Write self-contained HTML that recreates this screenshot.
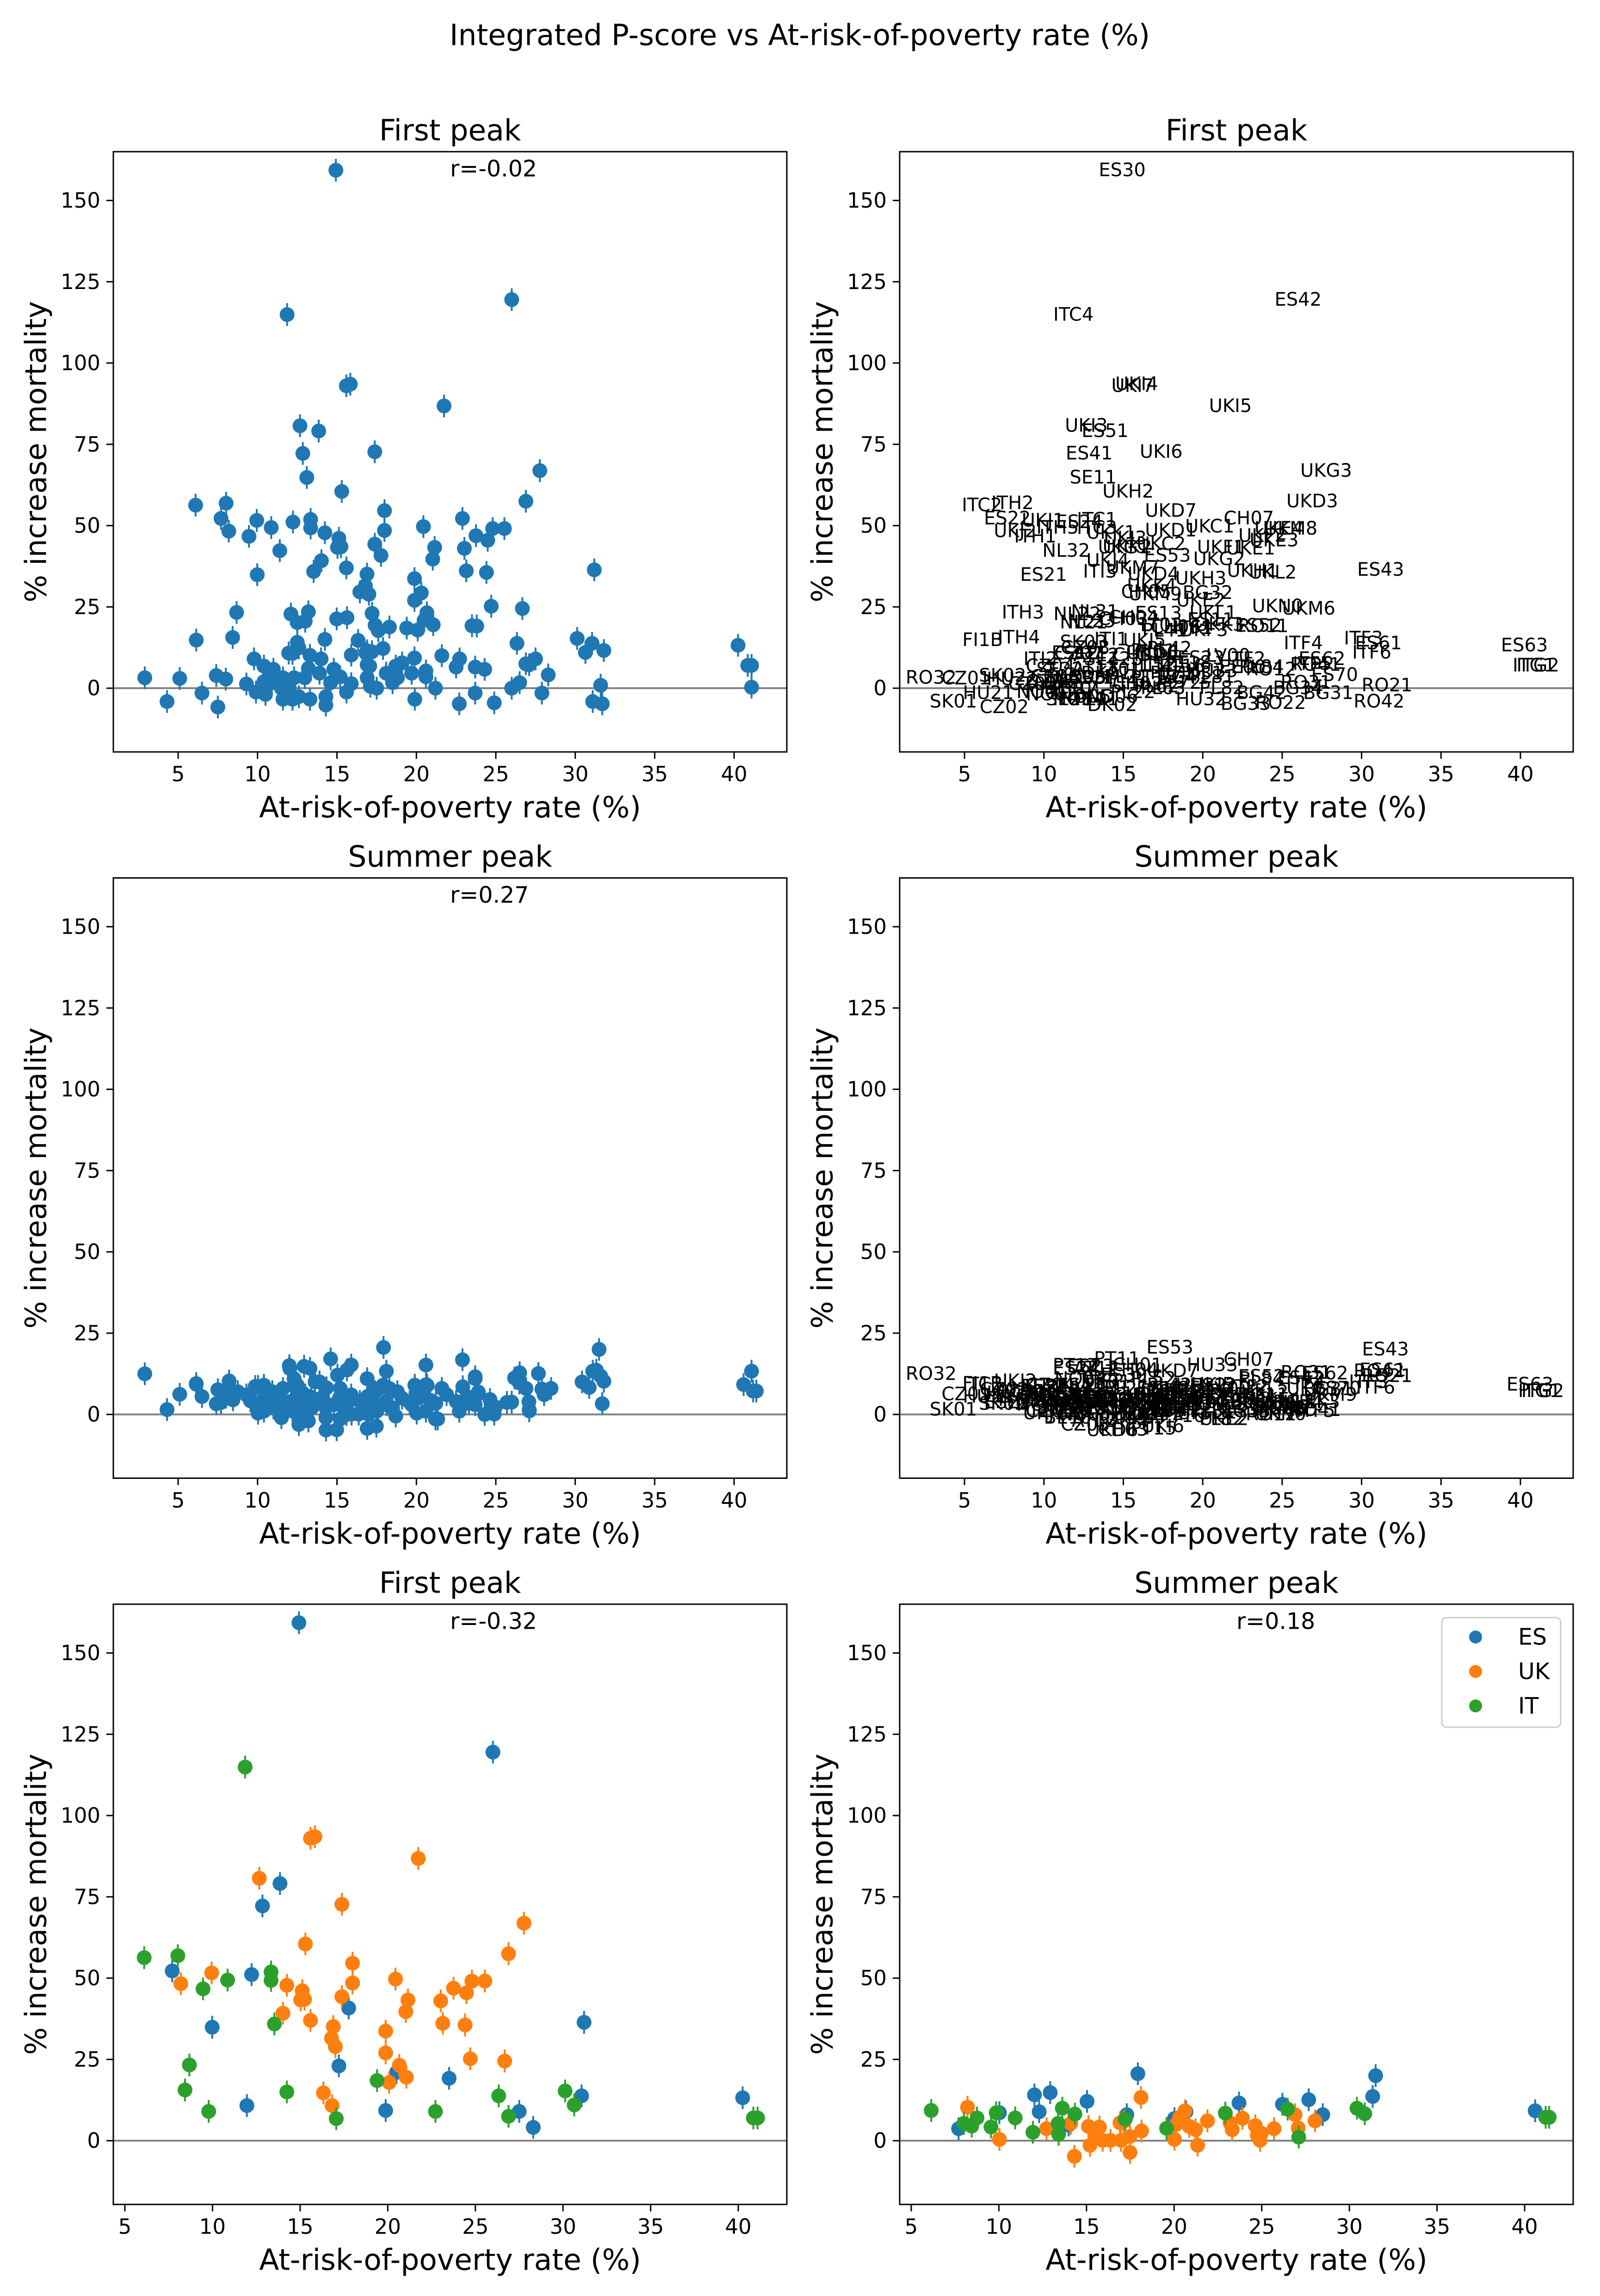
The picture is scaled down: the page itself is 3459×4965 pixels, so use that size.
<!DOCTYPE html>
<html>
<head>
<meta charset="utf-8">
<style>
  html, body { margin: 0; padding: 0; background: #ffffff; }
  svg { display: block; }
  text { font-family: "DejaVu Sans", "Liberation Sans", sans-serif; fill: #000; }
</style>
</head>
<body>
<svg id="fig" xmlns="http://www.w3.org/2000/svg" width="3459" height="4965" viewBox="0 0 3459 4965">
  <rect x="0" y="0" width="3459" height="4965" fill="#ffffff"/>
  <text x="1729" y="76" font-size="63" text-anchor="middle" dominant-baseline="central">Integrated P-score vs At-risk-of-poverty rate (%)</text>
</svg>
<script>
// ---------- DATA ----------
const esFirstX = [14.93, 26.0, 13.85, 12.85, 7.7, 12.23, 17.77, 9.98, 31.2, 17.21, 20.5, 23.5, 11.96, 19.88, 27.5, 31.06, 28.3, 40.25];
const esFirstY = [159.3, 119.5, 79.1, 72.2, 52.2, 51.1, 40.8, 34.9, 36.4, 23.0, 21.0, 19.2, 10.8, 9.3, 9.0, 13.8, 4.1, 13.2];
const esFirstCodes = ["ES30","ES42","ES51","ES41","ES22","ES24","ES53","ES21","ES43","ES13","ES11","ES52","ES12","ES23","ES62","ES61","ES70","ES63"];
const ukFirstX = [15.59, 15.84, 21.74, 12.67, 17.38, 27.77, 15.3, 26.89, 17.99, 9.95, 8.19, 20.44, 17.99, 24.8, 25.54, 14.24, 23.75, 24.49, 15.12, 15.03, 15.25, 17.38, 21.15, 23.02, 21.03, 14.02, 15.59, 23.14, 24.41, 16.89, 16.79, 17.01, 19.88, 19.88, 24.71, 26.67, 20.66, 21.06, 20.08, 16.33, 16.82];
const ukFirstY = [93.0, 93.5, 86.8, 80.7, 72.7, 66.9, 60.5, 57.5, 54.6, 51.6, 48.3, 49.7, 48.5, 49.1, 49.1, 47.8, 46.9, 45.5, 46.1, 43.3, 43.5, 44.3, 43.3, 43.0, 39.7, 39.2, 37.0, 36.1, 35.6, 35.1, 31.5, 28.9, 33.7, 27.0, 25.2, 24.5, 23.2, 19.5, 17.9, 14.7, 10.8];
const ukFirstCodes = ["UKI7","UKI4","UKI5","UKI3","UKI6","UKG3","UKH2","UKD3","UKD7","UKJ1","UKJ2","UKC1","UKD1","UKE4","UKM8","UKK1","UKF2","UKE3","UKJ3","UKG1","UKK2","UKC2","UKF1","UKE1","UKG2","UKJ4","UKM7","UKH1","UKL2","UKD4","UKK4","UKM9","UKH3","UKE2","UKN0","UKM6","UKL1","UKK3","UKF3","UKJ5","UKD6"];
const itFirstX = [11.86, 6.1, 8.02, 9.46, 10.86, 13.34, 13.34, 13.53, 8.68, 8.43, 14.24, 9.78, 17.06, 19.39, 22.72, 26.33, 26.89, 30.12, 30.64, 40.86, 41.1];
const itFirstY = [114.9, 56.3, 56.9, 46.7, 49.4, 51.9, 49.3, 35.9, 23.3, 15.6, 15.0, 9.0, 6.8, 18.5, 9.0, 13.8, 7.5, 15.3, 11.0, 7.0, 7.0];
const itFirstCodes = ["ITC4","ITC2","ITH2","ITH1","ITH5","ITC1","ITC3","ITI3","ITH3","ITH4","ITI1","ITI2","ITI4","ITF1","ITF2","ITF4","ITF5","ITF3","ITF6","ITG1","ITG2"];
const esSumX = [7.7, 10.03, 12.03, 12.3, 12.93, 15.03, 13.98, 17.3, 17.93, 20.02, 20.68, 23.7, 26.18, 27.68, 28.48, 31.33, 31.5, 40.6];
const esSumY = [3.7, 8.6, 14.1, 8.9, 14.8, 12.1, 4.8, 8.0, 20.6, 6.8, 8.9, 11.6, 11.2, 12.6, 8.0, 13.6, 20.0, 9.2];
const esSumCodes = ["ES22","ES21","ES24","ES41","ES23","ES30","ES51","ES13","ES53","ES11","ES12","ES52","ES42","ES62","ES70","ES61","ES43","ES63"];
const ukSumX = [8.21, 10.03, 12.72, 14.1, 14.31, 15.11, 15.2, 15.74, 15.47, 15.92, 16.37, 16.91, 17.12, 16.97, 17.48, 17.48, 18.11, 18.14, 20.02, 20.11, 20.32, 20.62, 20.86, 21.22, 21.34, 21.9, 23.19, 23.31, 23.9, 24.63, 24.75, 24.9, 24.98, 25.7, 26.9, 27.08, 28.04];
const ukSumY = [10.3, 0.4, 3.7, 5.3, -4.8, 4.4, -1.4, 4.2, 1.7, 0.1, 0.1, 5.5, 5.9, 0.1, 1.3, -3.6, 13.3, 3.0, 0.4, 5.0, 7.2, 9.2, 4.4, 3.4, -1.4, 6.1, 5.5, 3.4, 6.9, 4.6, 1.7, 0.1, 2.3, 3.7, 8.0, 3.9, 6.1];
const ukSumCodes = ["UKJ2","UKJ1","UKI3","UKK1","UKD6","UKI7","UKJ3","UKI4","UKH2","UKK2","UKJ4","UKG1","UKC2","UKM7","UKD4","UKI6","UKD7","UKD1","UKH3","UKC1","UKF2","UKI5","UKG2","UKE3","UKE2","UKF1","UKE1","UKH1","UKL2","UKE4","UKM8","UKN0","UKM6","UKL1","UKG3","UKK3","UKM9"];
const itSumX = [6.14, 8.0, 8.45, 8.75, 9.55, 9.85, 10.93, 11.94, 13.38, 13.41, 13.62, 14.34, 17.21, 19.57, 22.92, 26.48, 27.11, 30.43, 30.88, 41.2, 41.4];
const itSumY = [9.3, 5.3, 4.5, 7.0, 4.2, 8.6, 7.0, 2.6, 5.3, 2.0, 10.0, 8.2, 6.6, 3.8, 8.5, 9.7, 1.1, 10.0, 8.3, 7.2, 7.2];
const itSumCodes = ["ITC2","ITH2","ITH3","ITH4","ITH1","ITI2","ITH5","ITC4","ITC1","ITC3","ITI3","ITI1","ITI4","ITF1","ITF2","ITF4","ITF5","ITF3","ITF6","ITG1","ITG2"];
const otherCodes = ["RO32","SK01","CZ01","FI1B","HU21","CZ02","SK02","HU22","CZ03","NO01","CZ04","CZ05","NO02","SE22","CZ06","NL41","SE11","NL32","BE10","NL33","SE23","PT17","NL22","NL23","NL31","NL21","CZ07","CZ08","NO03","NO04","NO05","AT11","AT12","AT13","PL91","SK03","SE12","DK01","DK02","NO06","PT11","LT01","PL21","PL22","CH01","CH02","CH03","CH04","CH05","LT02","PL41","PL42","PL51","PL52","PT15","PL61","PL62","PL63","CH06","PL71","PL72","PT16","BG41","PT18","CH07","HU31","HU32","BG32","HU33","PL81","PL82","LV00","EE00","BG33","BG42","PL84","RO11","RO12","RO22","BG34","RO31","RO41","BG31","RO42","RO21"];
const otherX = [2.9, 4.3, 5.1, 6.14, 6.5, 7.5, 7.4, 8.0, 9.3, 9.9, 10.4, 10.4, 10.5, 11.0, 10.7, 10.9, 13.1, 11.4, 11.5, 11.6, 11.6, 12.0, 12.1, 13.0, 13.2, 12.5, 12.2, 12.6, 12.3, 12.2, 12.6, 12.97, 13.3, 13.2, 13.3, 12.5, 14.0, 13.9, 14.3, 14.3, 14.6, 14.8, 15.2, 15.6, 15.9, 15.9, 14.98, 15.63, 16.44, 17.4, 17.6, 17.9, 17.2, 16.9, 16.9, 16.9, 17.1, 17.5, 18.3, 18.1, 18.5, 18.7, 18.8, 19.1, 22.9, 19.7, 19.9, 20.31, 20.6, 20.6, 21.2, 21.6, 22.5, 22.7, 23.7, 23.7, 23.8, 24.3, 24.9, 26.0, 26.5, 27.1, 27.9, 31.1, 31.6, 31.7, 31.8, 41.1];
const otherFirst = [3.2, -4.1, 3.0, 14.8, -1.5, -5.8, 3.9, 2.8, 1.3, -1.2, 6.8, 2.0, -1.9, 5.8, 3.5, 1.7, 64.8, 42.3, 0.0, 3.2, -3.4, 0.0, 22.8, 20.6, 23.5, 20.2, 10.7, 12.4, 3.2, -3.4, -2.6, 3.2, 10.1, 6.1, -3.4, 14.1, 9.0, 4.6, -5.2, -2.6, 1.7, 5.8, 3.5, -1.2, 10.2, 1.4, 21.3, 21.7, 29.6, 19.4, 17.7, 12.2, 11.2, 7.2, 3.2, 11.5, 0.6, 0.0, 18.8, 4.6, 1.7, 6.8, 3.2, 7.8, 52.2, 4.6, -3.4, 29.3, 5.3, 3.5, 0.0, 10.0, 6.5, -4.8, -1.5, 6.5, 19.1, 5.8, -4.5, 0.0, 1.7, 7.2, -1.5, -4.1, 0.9, -4.8, 11.6, 0.3];
const otherSummer = [12.5, 1.5, 6.2, 9.5, 5.5, 7.6, 3.3, 6.6, 6.0, 3.0, 9.0, 1.0, 5.0, 2.0, 7.0, 4.0, 5.0, 6.0, -1.0, 3.0, 8.0, 15.0, 4.0, 6.0, 2.0, 9.0, 1.0, -3.1, 11.0, 3.0, 0.0, 5.0, 14.2, -2.0, 2.0, 6.0, 4.0, 10.0, 2.0, -1.0, 17.1, 3.0, 8.0, 0.0, 15.2, 6.0, -4.7, 13.7, 4.0, 7.0, 2.0, 9.0, 5.0, 11.0, -4.3, 3.0, 6.0, 1.0, 8.0, 4.0, 2.0, -0.5, 7.0, 5.0, 16.8, 3.0, 9.0, 6.0, 15.2, 1.0, -1.4, 8.0, 4.0, 1.0, 3.0, 11.0, 6.0, 0.0, 2.0, 3.8, 12.8, 1.4, 7.8, 13.3, 11.8, 3.3, 10.2, 13.3];
const corrLabels = ["r=-0.02", "r=0.27", "r=-0.32", "r=0.18"];
const yTicks = [0, 25, 50, 75, 100, 125, 150];
const xTicks = [5, 10, 15, 20, 25, 30, 35, 40];
const legendLabels = ["ES", "UK", "IT"];

// ---------- STYLE / LAYOUT ----------
const NS = "http://www.w3.org/2000/svg";
const svg = document.getElementById("fig");
const C_ES = "#1f77b4", C_UK = "#ff7f0e", C_IT = "#2ca02c";
const COLS = [245, 1945];
const ROWS = [328, 1898.5, 3469];
const AW = 1456, AH = 1298;
const YLIM = [-19.6, 165];
const XLIM_ALL = [0.92, 43.32];
const XLIM_SUB = [4.34, 42.77];
const ERR = 3.5;

function el(tag, attrs, parent) {
  const e = document.createElementNS(NS, tag);
  for (const k in attrs) e.setAttribute(k, attrs[k]);
  (parent || svg).appendChild(e);
  return e;
}

function makeAxes(col, row, xlim, title, nameBase) {
  const L = COLS[col], T = ROWS[row];
  const g = el("g", {});
  
  
  const sx = v => L + (v - xlim[0]) / (xlim[1] - xlim[0]) * AW;
  const sy = v => T + (YLIM[1] - v) / (YLIM[1] - YLIM[0]) * AH;
  const tt = el("text", { x: L + AW / 2, y: T - 46, "font-size": 63, "text-anchor": "middle", "dominant-baseline": "central" }, g);
  tt.textContent = title;
  
  
  const zl = el("line", { x1: L, x2: L + AW, y1: sy(0), y2: sy(0), stroke: "#808080", "stroke-width": 4 }, g);
  
  
  yTicks.forEach(v => {
    const y = sy(v);
    const tk = el("line", { x1: L - 15, x2: L, y1: y, y2: y, stroke: "#000", "stroke-width": 3 }, g);
    
    
    const tl = el("text", { x: L - 28, y: y, "font-size": 45, "text-anchor": "end", "dominant-baseline": "central" }, g);
    tl.textContent = String(v);
    
    
  });
  xTicks.forEach(v => {
    const x = sx(v);
    const tk = el("line", { x1: x, x2: x, y1: T + AH, y2: T + AH + 15, stroke: "#000", "stroke-width": 3 }, g);
    
    
    const tl = el("text", { x: x, y: T + AH + 48, "font-size": 45, "text-anchor": "middle", "dominant-baseline": "central" }, g);
    tl.textContent = String(v);
    
    
  });
  const xl = el("text", { x: L + AW / 2, y: T + AH + 120, "font-size": 63, "text-anchor": "middle", "dominant-baseline": "central" }, g);
  xl.textContent = "At-risk-of-poverty rate (%)";
  
  
  const yx = L - 167, yy = T + AH / 2;
  const yl = el("text", { x: yx, y: yy, "font-size": 63, "text-anchor": "middle", "dominant-baseline": "central", transform: "rotate(-90 " + yx + " " + yy + ")" }, g);
  yl.textContent = "% increase mortality";
  
  
  const marks = el("g", {}, g);
  
  
  const fr = el("rect", { x: L, y: T, width: AW, height: AH, fill: "none", stroke: "#000", "stroke-width": 3 }, g);
  
  
  return { g, marks, sx, sy, L, T };
}

function drawPoints(ax, xs, ys, color, name) {
  for (let i = 0; i < xs.length; i++) {
    const x = ax.sx(xs[i]), y = ax.sy(ys[i]);
    const eb = el("line", { x1: x, x2: x, y1: ax.sy(ys[i] + ERR), y2: ax.sy(ys[i] - ERR), stroke: color, "stroke-width": 4 }, ax.marks);
    
    
    const c = el("circle", { cx: x, cy: y, r: 16, fill: color }, ax.marks);
    
    
  }
}

function drawLabels(ax, xs, ys, codes) {
  for (let i = 0; i < xs.length; i++) {
    const t = el("text", { x: ax.sx(xs[i]), y: ax.sy(ys[i]), "font-size": 40, "text-anchor": "middle", "dominant-baseline": "central" }, ax.marks);
    t.textContent = codes[i];
    
    
  }
}

function corr(ax, txt) {
  const t = el("text", { x: ax.L + AW * 0.5, y: ax.T + 37, "font-size": 49, "text-anchor": "start", "dominant-baseline": "central" }, ax.g);
  t.textContent = txt;
  
  
}

const a1 = makeAxes(0, 0, XLIM_ALL, "First peak", "all-first-scatter");
drawPoints(a1, otherX, otherFirst, C_ES, "other-first");
drawPoints(a1, esFirstX, esFirstY, C_ES, "es-first");
drawPoints(a1, ukFirstX, ukFirstY, C_ES, "uk-first");
drawPoints(a1, itFirstX, itFirstY, C_ES, "it-first");
corr(a1, corrLabels[0]);

const a2 = makeAxes(1, 0, XLIM_ALL, "First peak", "all-first-labels");
drawLabels(a2, otherX, otherFirst, otherCodes);
drawLabels(a2, esFirstX, esFirstY, esFirstCodes);
drawLabels(a2, ukFirstX, ukFirstY, ukFirstCodes);
drawLabels(a2, itFirstX, itFirstY, itFirstCodes);

const a3 = makeAxes(0, 1, XLIM_ALL, "Summer peak", "all-summer-scatter");
drawPoints(a3, otherX, otherSummer, C_ES, "other-summer");
drawPoints(a3, esSumX, esSumY, C_ES, "es-summer");
drawPoints(a3, ukSumX, ukSumY, C_ES, "uk-summer");
drawPoints(a3, itSumX, itSumY, C_ES, "it-summer");
corr(a3, corrLabels[1]);

const a4 = makeAxes(1, 1, XLIM_ALL, "Summer peak", "all-summer-labels");
drawLabels(a4, otherX, otherSummer, otherCodes);
drawLabels(a4, esSumX, esSumY, esSumCodes);
drawLabels(a4, ukSumX, ukSumY, ukSumCodes);
drawLabels(a4, itSumX, itSumY, itSumCodes);

const a5 = makeAxes(0, 2, XLIM_SUB, "First peak", "country-first-scatter");
drawPoints(a5, esFirstX, esFirstY, C_ES, "es-first");
drawPoints(a5, ukFirstX, ukFirstY, C_UK, "uk-first");
drawPoints(a5, itFirstX, itFirstY, C_IT, "it-first");
corr(a5, corrLabels[2]);

const a6 = makeAxes(1, 2, XLIM_SUB, "Summer peak", "country-summer-scatter");
drawPoints(a6, esSumX, esSumY, C_ES, "es-summer");
drawPoints(a6, ukSumX, ukSumY, C_UK, "uk-summer");
drawPoints(a6, itSumX, itSumY, C_IT, "it-summer");
corr(a6, corrLabels[3]);

const lg = el("g", {});


const lbox = el("rect", { x: 3117, y: 3498, width: 257, height: 237, rx: 10, ry: 10, fill: "#ffffff", "fill-opacity": 0.8, stroke: "#cccccc", "stroke-width": 3 }, lg);


const legColors = [C_ES, C_UK, C_IT];
legendLabels.forEach((lab, i) => {
  const y = 3540 + i * 74.5;
  const m = el("circle", { cx: 3190, cy: y, r: 14, fill: legColors[i] }, lg);
  
  
  const t = el("text", { x: 3282, y: y, "font-size": 49, "text-anchor": "start", "dominant-baseline": "central" }, lg);
  t.textContent = lab;
  
  
});
</script>
</body>
</html>
